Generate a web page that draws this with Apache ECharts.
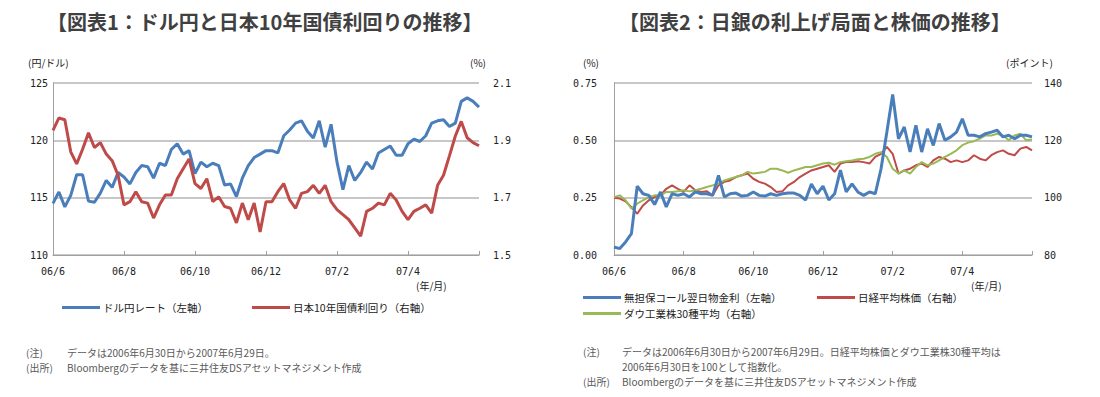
<!DOCTYPE html>
<html><head><meta charset="utf-8">
<script src="https://cdn.jsdelivr.net/npm/echarts@6/dist/echarts.min.js"></script>
<style>html,body{margin:0;padding:0;background:#fff}#c{width:1100px;height:397px}</style>
</head><body><div id="c"></div>
<script>
// Sampled roughly every 5 days, 2006-06-30 .. 2007-06-29 (73 points)
const tickLabels = ['06/6','06/8','06/10','06/12','07/2','07/4',''];
const usdjpy = [114.5,115.5,114.2,115.2,117.0,117.0,114.7,114.6,115.4,116.5,
 115.9,117.2,116.8,116.2,117.2,117.8,117.7,116.7,118.0,117.8,
 119.2,119.7,118.8,119.1,117.1,118.1,117.7,118.0,117.8,116.1,
 116.2,115.1,116.7,117.8,118.5,118.8,119.1,119.1,118.9,120.4,
 120.9,121.5,121.7,120.8,120.2,121.7,119.4,121.4,118.1,115.7,
 117.8,116.5,117.2,118.1,117.5,118.9,119.2,119.5,118.7,118.7,
 119.7,120.1,119.9,120.4,121.5,121.7,121.8,121.2,121.5,123.4,
 123.7,123.4,122.9];
const jgb10 = [1.935,1.978,1.972,1.86,1.818,1.869,1.926,1.875,1.892,1.852,
 1.829,1.778,1.675,1.686,1.721,1.686,1.681,1.629,1.675,1.709,
 1.709,1.766,1.801,1.835,1.749,1.732,1.766,1.686,1.703,1.669,
 1.663,1.612,1.681,1.623,1.681,1.58,1.686,1.686,1.721,1.749,
 1.692,1.663,1.715,1.721,1.743,1.715,1.743,1.686,1.658,1.641,
 1.623,1.595,1.566,1.652,1.663,1.681,1.675,1.715,1.692,1.652,
 1.623,1.652,1.663,1.675,1.646,1.743,1.778,1.846,1.915,1.966,
 1.909,1.892,1.881];
const callRate = [0.035,0.028,0.057,0.093,0.30,0.267,0.26,0.22,0.275,0.21,
 0.267,0.26,0.267,0.253,0.275,0.267,0.267,0.26,0.347,0.253,
 0.267,0.27,0.257,0.26,0.275,0.26,0.257,0.267,0.26,0.267,
 0.27,0.27,0.26,0.24,0.31,0.267,0.30,0.24,0.267,0.37,
 0.275,0.31,0.275,0.26,0.275,0.267,0.376,0.536,0.70,0.507,
 0.558,0.449,0.565,0.449,0.55,0.478,0.573,0.50,0.515,0.536,
 0.594,0.522,0.522,0.515,0.529,0.536,0.544,0.515,0.522,0.507,
 0.522,0.522,0.515];
const nikkei = [100,99.7,98.7,96.7,94.4,97.3,99.1,100.2,100.8,103.1,
 104.3,103.1,102.0,104.3,102.6,102.0,102.2,100.8,104.3,105.5,
 106.0,107.2,107.8,108.4,106.6,105.5,104.9,103.7,102.0,102.2,
 104.3,105.5,107.2,108.4,109.5,110.1,110.7,111.3,109.0,111.9,
 112.4,112.4,112.7,112.4,111.9,114.2,115.3,117.7,115.3,108.4,
 109.5,110.1,111.3,111.9,110.7,113.0,114.2,113.6,112.4,113.0,
 112.4,113.0,114.8,113.6,113.0,114.8,115.9,116.5,115.3,114.8,
 117.1,117.7,116.5];
const dow = [100.2,100.8,99.1,96.2,97.9,99.1,100.2,100.8,100.8,102.0,
 102.0,102.2,102.6,102.2,102.6,103.1,103.7,104.3,104.9,106.0,
 106.6,107.2,107.8,109.0,108.4,108.7,109.0,110.1,110.1,109.5,
 108.7,109.5,110.1,110.7,110.7,111.3,111.9,112.2,111.5,112.4,
 112.7,113.0,113.4,113.6,114.2,115.3,115.9,114.2,110.1,108.4,
 109.5,108.4,110.7,112.4,111.3,111.9,113.0,114.2,115.3,116.5,
 118.3,119.2,119.7,120.6,121.7,121.7,122.3,121.7,120.0,121.7,
 122.3,120.0,120.3];

const categories = usdjpy.map((_, i) => 'p' + i);
const BLUE = '#4a7ebb', RED = '#be4b48', GREEN = '#98b954';
const mono = 'DejaVu Sans Mono', jp = 'Noto Sans CJK JP';
const axisGray = '#a0a0a0', gridGray = '#b4b4b4';

function xAxis(gi) {
  return {
    type: 'category', gridIndex: gi, data: categories, boundaryGap: false,
    axisLine: { lineStyle: { color: axisGray, width: 1 } },
    axisTick: { show: true, inside: true, length: 4, interval: 11, lineStyle: { color: axisGray } },
    axisLabel: { interval: 11, margin: 11, color: '#222', fontFamily: mono, fontSize: 10,
      formatter: (v, idx) => tickLabels[Math.round(idx / 12)] },
    splitLine: { show: false }
  };
}
function yAxis(gi, pos, min, max, interval, dec, margin, split) {
  return {
    type: 'value', gridIndex: gi, position: pos, min, max, interval,
    axisLine: { show: pos === 'left', lineStyle: { color: axisGray, width: 1 } },
    axisTick: { show: false },
    axisLabel: { margin, color: '#222', fontFamily: mono, fontSize: 10,
      formatter: v => v.toFixed(dec) },
    splitLine: { show: split, lineStyle: { color: gridGray, width: 1.5 } }
  };
}
function lineSeries(name, data, color, w, xi, yi) {
  return { name, type: 'line', data, xAxisIndex: xi, yAxisIndex: yi, showSymbol: false,
    symbol: 'none', lineStyle: { color, width: w }, itemStyle: { color }, animation: false, z: 3 };
}
function legendAt(name, left, top) {
  return { data: [name], left, top, padding: 0, icon: 'rect', itemWidth: 38, itemHeight: 3,
    itemGap: 0, textStyle: { fontFamily: jp, fontSize: 10.5, lineHeight: 11, color: '#222', padding: [0, 0, 0, -2] } };
}
function txt(text, left, top, size, color, weight) {
  return { text, left, top, padding: 0,
    textStyle: { fontFamily: jp, fontSize: size, color, fontWeight: weight || 'normal', lineHeight: size } };
}
const NOTE = '#595959';

const chart = echarts.init(document.getElementById('c'), null, { renderer: 'svg' });
chart.setOption({
  animation: false,
  title: [
    txt('【図表1：ドル円と日本10年国債利回りの推移】', 47, 11, 20, '#404040', 'bold'),
    txt('【図表2：日銀の利上げ局面と株価の推移】', 619, 11, 20, '#404040', 'bold'),
    txt('(円/ドル)', 28, 57, 10, '#222'),
    txt('(%)', 470, 57, 10, '#222'),
    txt('(年/月)', 416, 280, 10, '#222'),
    txt('(%)', 583, 57, 10, '#222'),
    txt('(ポイント)', 1006, 57, 10, '#222'),
    txt('(年/月)', 971, 280, 10, '#222'),
    txt('(注)', 26, 347, 10, NOTE),
    txt('(出所)', 26, 362, 10, NOTE),
    txt('データは2006年6月30日から2007年6月29日。', 67, 347, 10, NOTE),
    txt('Bloombergのデータを基に三井住友DSアセットマネジメント作成', 67, 362, 10, NOTE),
    txt('(注)', 583, 346, 10, NOTE),
    txt('(出所)', 583, 376, 10, NOTE),
    txt('データは2006年6月30日から2007年6月29日。日経平均株価とダウ工業株30種平均は', 622, 346, 10, NOTE),
    txt('2006年6月30日を100として指数化。', 622, 361, 10, NOTE),
    txt('Bloombergのデータを基に三井住友DSアセットマネジメント作成', 622, 376, 10, NOTE)
  ],
  legend: [
    legendAt('ドル円レート（左軸）', 62, 302),
    legendAt('日本10年国債利回り（右軸）', 252, 302),
    legendAt('無担保コール翌日物金利（左軸）', 583, 292),
    legendAt('日経平均株価（右軸）', 817, 292),
    legendAt('ダウ工業株30種平均（右軸）', 583, 308)
  ],
  grid: [
    { left: 53, right: 621, top: 83, bottom: 142 },
    { left: 614, right: 68, top: 83, bottom: 142 }
  ],
  xAxis: [xAxis(0), xAxis(1)],
  yAxis: [
    yAxis(0, 'left', 110, 125, 5, 0, 5, true),
    yAxis(0, 'right', 1.5, 2.1, 0.2, 1, 14, false),
    yAxis(1, 'left', 0, 0.75, 0.25, 2, 17, true),
    yAxis(1, 'right', 80, 140, 20, 0, 12, false)
  ],
  series: [
    lineSeries('ドル円レート（左軸）', usdjpy, BLUE, 3, 0, 0),
    lineSeries('日本10年国債利回り（右軸）', jgb10, RED, 3, 0, 1),
    lineSeries('日経平均株価（右軸）', nikkei, RED, 2, 1, 3),
    lineSeries('ダウ工業株30種平均（右軸）', dow, GREEN, 2, 1, 3),
    lineSeries('無担保コール翌日物金利（左軸）', callRate, BLUE, 3, 1, 2)
  ]
});
</script></body></html>
